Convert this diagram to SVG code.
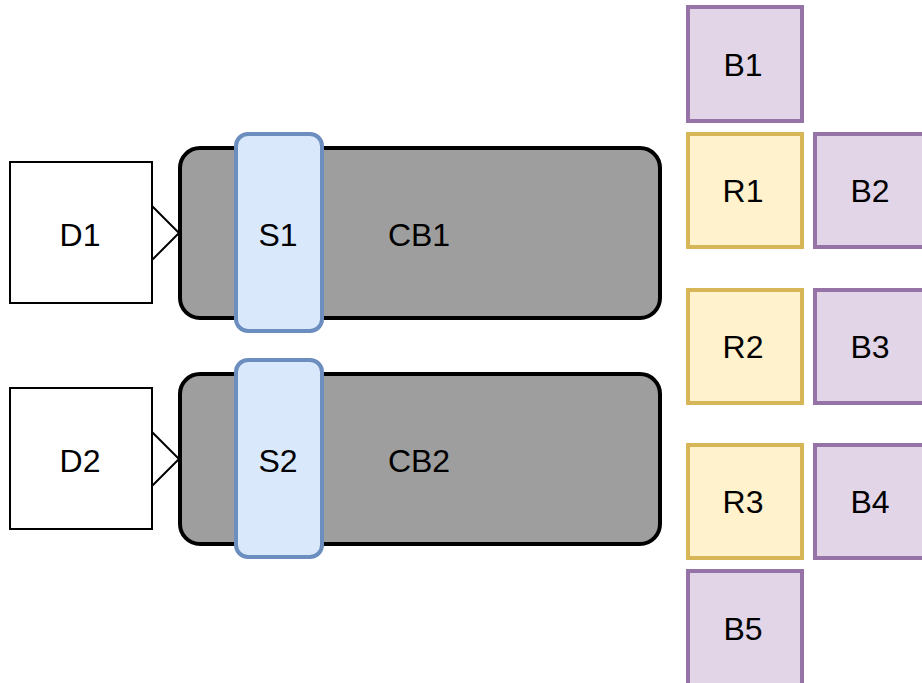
<svg xmlns="http://www.w3.org/2000/svg" width="922" height="683" viewBox="0 0 922 683">
<style>
text{font-family:"Liberation Sans",Arial,sans-serif;font-size:32px;fill:#000;text-anchor:middle}
.d{fill:#fff;stroke:#000;stroke-width:2}
.cb{fill:#9e9e9e;stroke:#000;stroke-width:4}
.s{fill:#dae8fc;stroke:#6c8ebf;stroke-width:4}
.b{fill:#e1d5e7;stroke:#9673a6;stroke-width:4}
.r{fill:#fff2cc;stroke:#d6b656;stroke-width:4}
.c{fill:none;stroke:#000;stroke-width:2}
</style>
<rect width="922" height="683" fill="#fff"/>
<g id="CB1"><rect class="cb" x="180" y="148" width="480" height="170" rx="20"/><text x="419" y="246">CB1</text></g>
<g id="CB2"><rect class="cb" x="180" y="374" width="480" height="170" rx="20"/><text x="419" y="472">CB2</text></g>
<g id="S1"><rect class="s" x="236" y="134" width="86" height="197" rx="12"/><text x="278" y="246">S1</text></g>
<g id="S2"><rect class="s" x="236" y="360" width="86" height="197" rx="12"/><text x="278" y="472">S2</text></g>
<g id="D1"><rect class="d" x="10" y="162" width="142" height="141"/><text x="80" y="246">D1</text></g>
<g id="D2"><rect class="d" x="10" y="388" width="142" height="141"/><text x="80" y="472">D2</text></g>
<g id="connectors">
<polyline class="c" points="152,206 179,233 152,260"/>
<polyline class="c" points="152,432 179,459 152,486"/>
</g>
<g id="B1"><rect class="b" x="688" y="7" width="114" height="114"/><text x="743" y="76">B1</text></g>
<g id="R1"><rect class="r" x="688" y="134" width="114" height="113"/><text x="743" y="202">R1</text></g>
<g id="B2"><rect class="b" x="815" y="134" width="114" height="113"/><text x="870" y="202">B2</text></g>
<g id="R2"><rect class="r" x="688" y="290" width="114" height="113"/><text x="743" y="358">R2</text></g>
<g id="B3"><rect class="b" x="815" y="290" width="114" height="113"/><text x="870" y="358">B3</text></g>
<g id="R3"><rect class="r" x="688" y="445" width="114" height="113"/><text x="743" y="513">R3</text></g>
<g id="B4"><rect class="b" x="815" y="445" width="114" height="113"/><text x="870" y="513">B4</text></g>
<g id="B5"><rect class="b" x="688" y="571" width="114" height="114"/><text x="743" y="640">B5</text></g>
</svg>
